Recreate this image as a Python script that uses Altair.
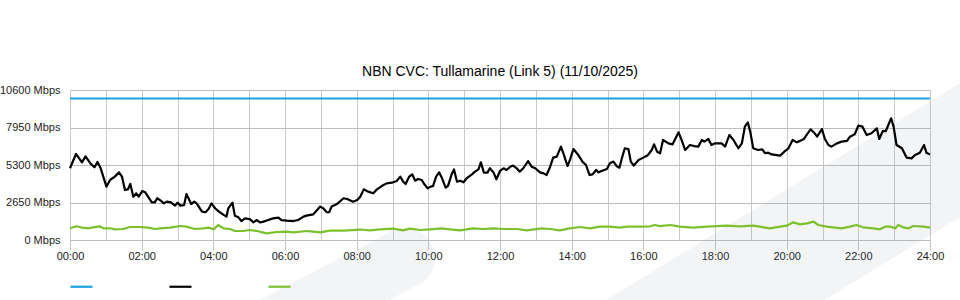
import altair as alt
import pandas as pd

TITLE = "NBN CVC: Tullamarine (Link 5) (11/10/2025)"
SERIES = ["Capacity", "Download", "Upload"]
COLORS = ["#1ba1e2", "#000000", "#7cc02e"]
WIDTHS = [2.2, 2.2, 2.6]

Y_TICKS = [0, 2650, 5300, 7950, 10600]
X_GRID = list(range(0, 1441, 60))

# minutes since midnight / Mbps
capacity_min = [0, 1440]
capacity_mbps = [10000, 10000]

download_min = [
    0, 10, 20, 26, 35, 41, 46, 51, 61, 67, 75, 82, 87, 92, 97, 101, 106, 111, 115, 121,
    126, 137, 142, 146, 152, 157, 162, 169, 176, 180, 185, 191, 195, 203, 208, 212, 221, 227, 232, 237,
    243, 248, 256, 262, 265, 272, 276, 282, 287, 293, 301, 307, 313, 318, 324, 332, 340, 349, 354, 363,
    374, 382, 391, 396, 407, 419, 424, 430, 434, 438, 447, 458, 464, 474, 481, 486,
    492, 499, 508, 514, 525, 530, 539, 547, 553, 558, 562, 568, 573, 578, 583, 589, 593, 599, 604, 608,
    613, 618, 623, 629, 633, 639, 643, 648, 653, 659, 664, 673, 678, 684, 688, 693, 699, 703, 709, 714,
    720, 726, 731, 737, 742, 748, 753, 759, 767, 773, 779, 787, 793, 798, 804, 809, 815, 822, 827, 833,
    837, 843, 851, 858, 864, 870, 875, 881, 885, 890, 899, 904, 910, 915, 920, 924, 929, 935, 939, 944,
    952, 960, 968, 974, 978, 983, 988,
    993, 1002, 1009, 1019, 1024, 1030, 1038, 1045, 1052, 1058, 1062, 1069, 1074, 1080, 1091, 1097, 1104, 1111, 1119, 1125,
    1130, 1135, 1139, 1144, 1152, 1159, 1164, 1169, 1175, 1189, 1196, 1203, 1210, 1217, 1222, 1229, 1234, 1240, 1247, 1251,
    1259, 1264, 1270, 1275, 1284, 1292, 1301, 1306, 1314, 1320, 1327, 1334, 1342, 1351, 1355, 1361, 1366, 1375, 1379, 1384,
    1393, 1401, 1409, 1415, 1423, 1430, 1434, 1440,
]
download_mbps = [
    5070, 6080, 5490, 5910, 5370, 5140, 5510, 5110, 3770, 4240, 4480, 4780, 4480, 3530, 3580, 3960, 3060, 3300, 3060, 3460,
    3370, 2660, 2660, 2950, 2780, 2590, 2710, 2660, 2430, 2640, 2430, 2470, 3250, 2540, 2710, 2590, 2000, 1960, 2190, 2590,
    2240, 2050, 1810, 1650, 2240, 2640, 1720, 1600, 1340, 1530, 1480, 1250, 1410, 1250, 1300, 1410, 1530, 1580, 1410, 1370,
    1340, 1410, 1650, 1720, 1810, 2360, 2240, 1960, 1960, 2360, 2540, 2950, 2900, 2710, 2830, 3060,
    3580, 3420, 3300, 3580, 3890, 4000, 4050, 4170, 4480, 4120, 3960, 4480, 4640, 4190, 4310, 4240, 3960, 3650, 3770, 3820,
    4480, 4780, 4360, 3700, 3820, 4640, 4990, 4120, 4190, 4080, 4360, 4640, 4830, 4990, 5490, 4760, 4760, 5070, 4780, 4290,
    4880, 5070, 4950, 5180, 5260, 5070, 4830, 5070, 5580, 5180, 5070, 4780, 4710, 4590, 5180, 5820, 5890, 6590, 6010, 5230,
    5650, 6430, 6010, 5540, 5300, 4590, 4640, 4950, 4780, 4880, 5020, 5420, 5540, 5230, 5110, 5770, 6480, 6430, 5540, 5260,
    5650, 5820, 6010, 6360, 6760, 6240, 6130,
    7070, 6830, 6760, 7610, 7070, 6360, 6710, 6640, 6600, 7070, 6950, 7140, 6710, 6830, 6830, 6600, 7420, 7070, 6480, 6830,
    8010, 8310, 7660, 6480, 6360, 6410, 6130, 6170, 6050, 5960, 6240, 6480, 7070, 6900, 7000, 7140, 7470, 7820, 7540, 7300,
    7840, 7140, 6710, 6600, 6830, 6950, 7000, 7300, 7470, 8080, 8010, 7420, 7540, 7890, 7140, 7700, 7700, 8600, 8010, 6710,
    6480, 5820, 5770, 6010, 6170, 6710, 6170, 6050,
]

upload_min = [
    0, 11, 20, 31, 39, 50, 56, 67, 75, 89, 100, 117, 131, 142, 151, 167, 184, 195, 209, 223,
    232, 241, 248, 257, 268, 276, 290, 301, 313, 329, 346, 363, 374, 396, 407, 419, 435, 458, 486, 502,
    519, 541, 558, 569, 586, 603, 622, 636, 653, 675, 692, 709, 726, 748, 765, 790, 804, 820, 837, 854,
    871, 887, 904, 921, 932, 954, 971, 979, 988, 1005, 1021, 1044, 1066, 1100, 1122, 1144, 1155, 1172, 1189, 1200,
    1211, 1222, 1234, 1245, 1253, 1267, 1292, 1306, 1317, 1328, 1345, 1356, 1365, 1373, 1382, 1387, 1395, 1404, 1412, 1429,
    1440,
]
upload_mbps = [
    827, 968, 872, 827, 897, 968, 827, 827, 756, 777, 919, 919, 872, 777, 827, 872, 989, 943, 777, 827,
    872, 756, 1060, 827, 777, 636, 636, 707, 636, 470, 565, 589, 541, 636, 589, 541, 659, 659, 740, 683,
    756, 801, 683, 801, 707, 756, 827, 756, 683, 827, 777, 827, 777, 777, 683, 827, 777, 683, 827, 919,
    827, 943, 943, 872, 943, 943, 968, 1060, 980, 1060, 943, 872, 943, 1013, 968, 1013, 943, 827, 943, 1013,
    1249, 1107, 1178, 1296, 1060, 943, 827, 943, 1060, 897, 827, 756, 943, 943, 827, 1060, 897, 827, 989, 943,
    872,
]

assert len(download_min) == len(download_mbps)
assert len(upload_min) == len(upload_mbps)

frames = []
for name, mins, vals in [
    ("Capacity", capacity_min, capacity_mbps),
    ("Download", download_min, download_mbps),
    ("Upload", upload_min, upload_mbps),
]:
    frames.append(pd.DataFrame({"series": name, "minute": mins, "mbps": vals}))
df = pd.concat(frames, ignore_index=True)

FONT = "Liberation Sans"

x_axis = alt.Axis(
    values=X_GRID,
    labelExpr="datum.value % 120 === 0 ? ((datum.value / 60 < 10 ? '0' : '') + (datum.value / 60) + ':00') : ''",
    labelOverlap=False,
    labelFlush=False,
    title=None,
    domain=False,
    grid=True,
    gridColor="#cbcbcb",
    gridWidth=1,
    tickSize=10,
    tickColor={"condition": {"test": "datum.value % 120 === 0", "value": "#c4c4c4"}, "value": "rgba(0,0,0,0)"},
    labelPadding=0,
    labelFont=FONT,
    labelFontSize=11,
    labelColor="#222222",
)
y_axis = alt.Axis(
    values=Y_TICKS,
    labelExpr="datum.value + ' Mbps'",
    title=None,
    domain=False,
    ticks=False,
    tickSize=0,
    grid=True,
    gridColor="#bdbdbd",
    gridWidth=1,
    labelPadding=10,
    labelFont=FONT,
    labelFontSize=11,
    labelColor="#222222",
)

base = alt.Chart(df)

lines = base.mark_line(interpolate="linear", strokeJoin="round").encode(
    x=alt.X("minute:Q", scale=alt.Scale(domain=[0, 1440], nice=False, zero=False), axis=x_axis),
    y=alt.Y("mbps:Q", scale=alt.Scale(domain=[0, 10600], nice=False), axis=y_axis),
    color=alt.Color(
        "series:N",
        scale=alt.Scale(domain=SERIES, range=COLORS),
        legend=alt.Legend(
            title=None,
            orient="none",
            legendX=-1,
            legendY=184,
            direction="horizontal",
            symbolType="stroke",
            symbolSize=484,
            symbolStrokeWidth=2.6,
            labelExpr="''",
            labelOffset=0,
            columnPadding=68,
            padding=0,
        ),
    ),
    strokeWidth=alt.StrokeWidth("series:N", scale=alt.Scale(domain=SERIES, range=WIDTHS), legend=None),
    order=alt.Order("minute:Q"),
)

# faint background watermark bands
stripe = alt.Chart(pd.DataFrame({"k": [0]})).mark_rule(
    color="#8791a5", opacity=0.1, strokeWidth=114
).encode(x=alt.value(490), y=alt.value(305), x2=alt.value(990), y2=alt.value(-1))

blob = alt.Chart(pd.DataFrame({"k": [0]})).mark_rule(
    color="#8791a5", opacity=0.1, strokeWidth=60, strokeCap="round"
).encode(x=alt.value(130), y=alt.value(275), x2=alt.value(335), y2=alt.value(168))

chart = (
    alt.layer(stripe, blob, lines)
    .properties(
        width=860,
        height=150,
        autosize=alt.AutoSizeParams(type="none"),
        padding={"left": 70, "top": 90, "right": 30, "bottom": 60},
        title=alt.TitleParams(
            TITLE,
            font=FONT,
            fontSize=14,
            fontWeight="normal",
            color="#000000",
            anchor="middle",
            offset=6,
            dy=53,
        ),
        background="white",
    )
    .configure_view(stroke=None)
)

chart.save("out.html", embed_options={"renderer": "svg", "actions": False})
